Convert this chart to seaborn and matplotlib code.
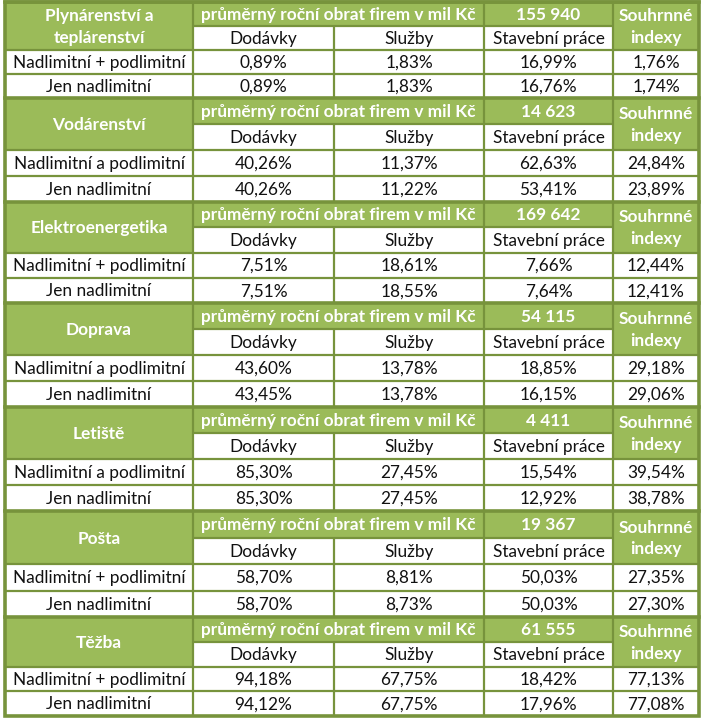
import numpy as np
import matplotlib
matplotlib.use("Agg")
import matplotlib.pyplot as plt
from matplotlib.patches import Rectangle
import seaborn as sns

# ---------------- data ----------------
sectors = ["Plynárenství a\nteplárenství", "Vodárenství", "Elektroenergetika",
           "Doprava", "Letiště", "Pošta", "Těžba"]
turnover = ["155 940", "14 623", "169 642", "54 115", "4 411", "19 367", "61 555"]
row1_labels = ["Nadlimitní + podlimitní", "Nadlimitní a podlimitní", "Nadlimitní + podlimitní",
               "Nadlimitní a podlimitní", "Nadlimitní a podlimitní", "Nadlimitní + podlimitní",
               "Nadlimitní + podlimitní"]
row2_label = "Jen nadlimitní"
header_main = "průměrný roční obrat firem v mil Kč"
sub_headers = ["Dodávky", "Služby", "Stavební práce"]
index_header = "Souhrnné\nindexy"

dodavky_all = [0.89, 40.26, 7.51, 43.60, 85.30, 58.70, 94.18]
sluzby_all = [1.83, 11.37, 18.61, 13.78, 27.45, 8.81, 67.75]
stavebni_all = [16.99, 62.63, 7.66, 18.85, 15.54, 50.03, 18.42]
index_all = [1.76, 24.84, 12.44, 29.18, 39.54, 27.35, 77.13]

dodavky_nad = [0.89, 40.26, 7.51, 43.45, 85.30, 58.70, 94.12]
sluzby_nad = [1.83, 11.22, 18.55, 13.78, 27.45, 8.73, 67.75]
stavebni_nad = [16.76, 53.41, 7.64, 16.15, 12.92, 50.03, 17.96]
index_nad = [1.74, 23.89, 12.41, 29.06, 38.78, 27.30, 77.08]

# ---------------- style ----------------
sns.set_theme(style="white")
plt.rcParams["font.family"] = ["Lato", "DejaVu Sans"]

GREEN = "#9BBB59"
LINE = "#77933C"
TEXT = "#111111"
FS = 12.4

def fmt(v):
    return f"{v:.2f}".replace(".", ",") + "%"

W, H = 705, 722
fig = plt.figure(figsize=(W / 100, H / 100), dpi=100)
ax = fig.add_axes([0, 0, 1, 1])
ax.set_xlim(0, W)
ax.set_ylim(H, 0)
ax.axis("off")

xs = [5, 193, 334, 484, 613, 699]
block_tops = [2, 98, 202, 303, 407, 511, 617, 716]

thin = 1.6
thick = 2.6

for b in range(7):
    y0, y1 = block_tops[b], block_tops[b + 1]
    rh = (y1 - y0) / 4.0
    ys = [y0 + i * rh for i in range(5)]
    # backgrounds
    ax.add_patch(Rectangle((xs[0], ys[0]), xs[5] - xs[0], y1 - y0, facecolor="white", edgecolor="none"))
    ax.add_patch(Rectangle((xs[0], ys[0]), xs[1] - xs[0], ys[2] - ys[0], facecolor=GREEN, edgecolor="none"))
    ax.add_patch(Rectangle((xs[1], ys[0]), xs[4] - xs[1], ys[1] - ys[0], facecolor=GREEN, edgecolor="none"))
    ax.add_patch(Rectangle((xs[4], ys[0]), xs[5] - xs[4], ys[2] - ys[0], facecolor=GREEN, edgecolor="none"))
    # inner lines
    ax.plot([xs[1], xs[4]], [ys[1], ys[1]], color=LINE, lw=thin, solid_capstyle="butt")
    for yy in (ys[2], ys[3]):
        ax.plot([xs[0], xs[5]], [yy, yy], color=LINE, lw=thin, solid_capstyle="butt")
    for xx in (xs[1], xs[3], xs[4]):
        ax.plot([xx, xx], [ys[0], ys[4]], color=LINE, lw=thin, solid_capstyle="butt")
    ax.plot([xs[2], xs[2]], [ys[1], ys[4]], color=LINE, lw=thin, solid_capstyle="butt")
    # block separator
    ax.plot([xs[0], xs[5]], [y0, y0], color=LINE, lw=thick, solid_capstyle="projecting")

    cx = [(xs[i] + xs[i + 1]) / 2 for i in range(5)]
    cy = [(ys[i] + ys[i + 1]) / 2 + 0.8 for i in range(4)]
    tk = dict(ha="center", va="center", fontsize=FS)
    # header texts
    ax.text(cx[0], (ys[0] + ys[2]) / 2 + 1, sectors[b], color="white", fontweight="bold",
            linespacing=1.45, **tk)
    ax.text((xs[1] + xs[3]) / 2, cy[0], header_main, color="white", fontweight="bold", **tk)
    ax.text(cx[3], cy[0], turnover[b], color="white", fontweight="bold", **tk)
    ax.text(cx[4], (ys[0] + ys[2]) / 2 + 1, index_header, color="white", fontweight="bold",
            linespacing=1.45, **tk)
    for j, s in enumerate(sub_headers):
        ax.text(cx[j + 1], cy[1], s, color=TEXT, **tk)
    # data rows
    ax.text(cx[0], cy[2], row1_labels[b], color=TEXT, **tk)
    ax.text(cx[0], cy[3], row2_label, color=TEXT, **tk)
    for j, arr in enumerate([dodavky_all, sluzby_all, stavebni_all, index_all]):
        ax.text(cx[j + 1], cy[2], fmt(arr[b]), color=TEXT, **tk)
    for j, arr in enumerate([dodavky_nad, sluzby_nad, stavebni_nad, index_nad]):
        ax.text(cx[j + 1], cy[3], fmt(arr[b]), color=TEXT, **tk)

# outer border
ax.add_patch(Rectangle((xs[0], block_tops[0]), xs[5] - xs[0], block_tops[-1] - block_tops[0],
                       facecolor="none", edgecolor=LINE, lw=thick))

fig.savefig("out.png", dpi=100)
